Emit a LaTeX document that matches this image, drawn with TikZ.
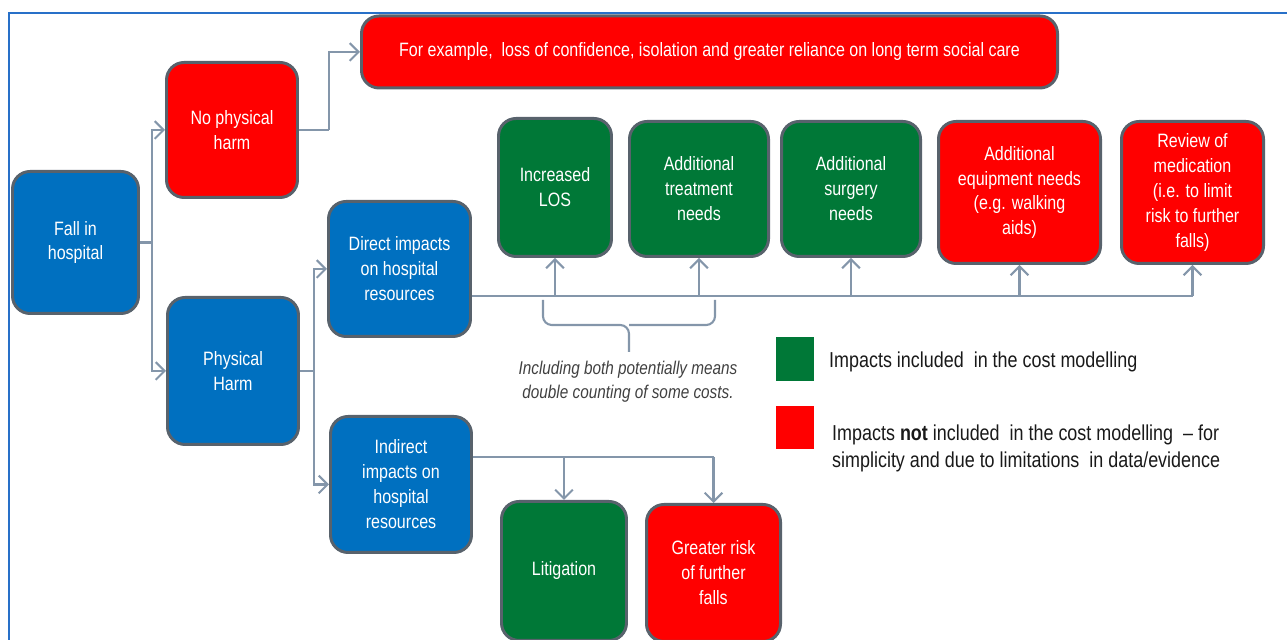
\documentclass[tikz,border=0pt]{standalone}
\usepackage{fontspec}
\setmainfont{Liberation Sans}[FakeStretch=0.83]
\usepackage{tikz}
\usetikzlibrary{arrows.meta,positioning}
\definecolor{fallblue}{RGB}{0,112,192}
\definecolor{harmred}{RGB}{255,0,0}
\definecolor{costgreen}{RGB}{0,120,55}
\definecolor{edgegrey}{RGB}{88,98,108}
\definecolor{linkgrey}{RGB}{132,150,170}
\definecolor{frameblue}{RGB}{40,112,200}
\begin{document}
\begin{tikzpicture}[
  impact/.style={draw=edgegrey, line width=1.7pt, rounded corners=10pt, text=white, align=center, inner sep=2pt, font=\fontsize{11}{14.2}\selectfont},
  link/.style={draw=linkgrey, line width=1.2pt},
  linkarrow/.style={link, -{Straight Barb[length=5pt,width=10pt]}},
  keytext/.style={anchor=west, align=left, text=black!90, font=\fontsize{12.3}{15.5}\selectfont}]
\useasboundingbox (0,0) rectangle (25.74,12.8);
\clip (0,0) rectangle (25.74,12.8);
% Frame
\draw[frameblue, line width=0.9pt] (0.18,-1) -- (0.18,12.54) -- (26.5,12.54);
% Root and first split
\node[impact, fill=fallblue, minimum width=2.52cm, minimum height=2.84cm] (fall) at (1.51,7.95) {Fall in\\hospital};
\node[impact, fill=harmred, minimum width=2.62cm, minimum height=2.70cm] (nope) at (4.64,10.20) {No physical\\harm};
\node[impact, fill=fallblue, minimum width=2.62cm, minimum height=2.94cm] (harm) at (4.66,5.38) {Physical\\Harm};
\node[impact, fill=harmred, minimum width=13.92cm, minimum height=1.44cm] (example) at (14.19,11.76) {For example,\ \ loss of confidence, isolation and greater reliance on long term social care};
% Physical harm split
\node[impact, fill=fallblue, minimum width=2.84cm, minimum height=2.70cm] (direct) at (7.99,7.42) {Direct impacts\\on hospital\\resources};
\node[impact, fill=fallblue, minimum width=2.82cm, minimum height=2.72cm] (indirect) at (8.02,3.11) {Indirect\\impacts on\\hospital\\resources};
% Direct impacts
\node[impact, fill=costgreen, minimum width=2.26cm, minimum height=2.76cm] (los) at (11.10,9.05) {Increased\\LOS};
\node[impact, fill=costgreen, minimum width=2.78cm, minimum height=2.70cm] (treat) at (13.98,9.02) {Additional\\treatment\\needs};
\node[impact, fill=costgreen, minimum width=2.78cm, minimum height=2.70cm] (surg) at (17.02,9.02) {Additional\\surgery\\needs};
\node[impact, fill=harmred, minimum width=3.24cm, minimum height=2.84cm] (equip) at (20.39,8.95) {Additional\\equipment needs\\(e.g. walking\\aids)};
\node[impact, fill=harmred, minimum width=2.84cm, minimum height=2.84cm] (review) at (23.85,8.95) {Review of\\medication\\(i.e. to limit\\risk to further\\falls)};
% Indirect impacts
\node[impact, fill=costgreen, minimum width=2.50cm, minimum height=2.78cm] (litig) at (11.28,1.38) {Litigation};
\node[impact, fill=harmred, minimum width=2.68cm, minimum height=2.74cm] (risk) at (14.27,1.34) {Greater risk\\of further\\falls};
% Junctions
\coordinate (fallfork) at (3.04,7.95);
\coordinate (nopefork) at (6.58,10.20);
\coordinate (harmfork) at (6.28,5.38);
\coordinate (directbus) at (9.44,6.88);
\coordinate (indirectbus) at (9.46,3.66);
% Arrows
\draw[link] (fall.east) -- (fallfork);
\draw[linkarrow] (fallfork) |- (nope.west);
\draw[linkarrow] (fallfork) |- (harm.west);
\draw[link] (nope.east) -- (nopefork);
\draw[linkarrow] (nopefork) |- (example.west);
\draw[link] (harm.east) -- (harmfork);
\draw[linkarrow] (harmfork) |- (direct.west);
\draw[linkarrow] (harmfork) |- (indirect.west);
\draw[link] (directbus) -- (directbus -| review.south);
\foreach \n in {los,treat,surg,equip,review}
  \draw[linkarrow] (directbus -| \n.south) -- (\n.south);
\draw[link] (indirectbus) -- (indirectbus -| risk.north);
\foreach \n in {litig,risk}
  \draw[linkarrow] (indirectbus -| \n.north) -- (\n.north);
% Brace and note
\coordinate (bracetip) at (12.58,5.76);
\draw[link, rounded corners=5pt] (10.86,6.80) |- (12.58,6.30) -- (bracetip);
\draw[link, rounded corners=5pt] (14.30,6.80) |- (12.58,6.30);
\node[align=center, text=black!75, font=\fontsize{10.5}{13.6}\selectfont\itshape] (note) at (12.56,5.16) {Including both potentially means\\double counting of some costs.};
% Key
\node[fill=costgreen, minimum width=0.76cm, minimum height=0.88cm, inner sep=0pt] (keyin) at (15.90,5.62) {};
\node[fill=harmred, minimum width=0.76cm, minimum height=0.86cm, inner sep=0pt] (keyout) at (15.90,4.25) {};
\node[keytext] (keyintext) at (16.46,5.56) {Impacts included\ \ in the cost modelling};
\node[keytext] (keyouttext) at (16.52,3.83) {Impacts \textbf{not} included\ \ in the cost modelling\ \ -- for\\simplicity and due to limitations\ \ in data/evidence};
\end{tikzpicture}
\end{document}
